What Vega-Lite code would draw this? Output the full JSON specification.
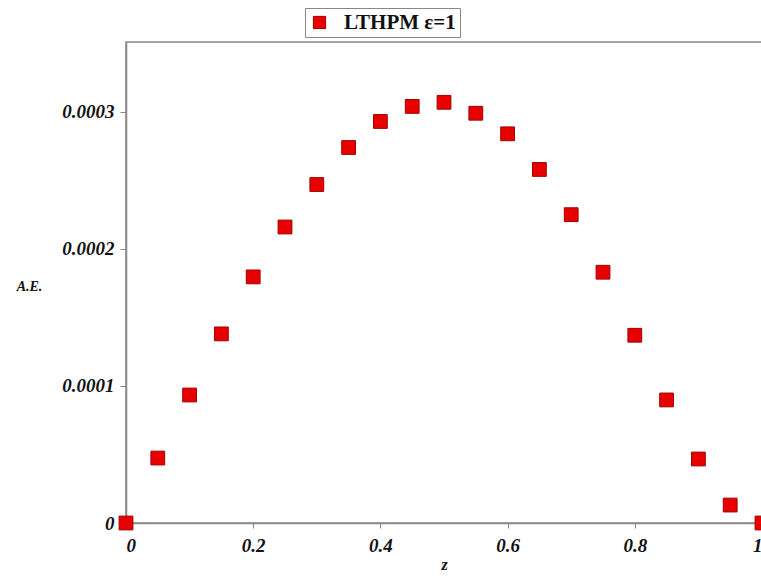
{
  "$schema": "https://vega.github.io/schema/vega-lite/v6.json",
  "autosize": "none",
  "width": 636,
  "height": 481,
  "padding": {"left": 126, "top": 42, "right": 0, "bottom": 56},
  "background": "white",
  "config": {
    "view": {"stroke": "#888888", "strokeWidth": 1.5}
  },
  "data": {
    "values": [
      {"z": 0.0, "ae": 0.0, "series": "LTHPM ε=1"},
      {"z": 0.05, "ae": 0.0000474, "series": "LTHPM ε=1"},
      {"z": 0.1, "ae": 0.0000934, "series": "LTHPM ε=1"},
      {"z": 0.15, "ae": 0.000138, "series": "LTHPM ε=1"},
      {"z": 0.2, "ae": 0.0001796, "series": "LTHPM ε=1"},
      {"z": 0.25, "ae": 0.000216, "series": "LTHPM ε=1"},
      {"z": 0.3, "ae": 0.000247, "series": "LTHPM ε=1"},
      {"z": 0.35, "ae": 0.000274, "series": "LTHPM ε=1"},
      {"z": 0.4, "ae": 0.000293, "series": "LTHPM ε=1"},
      {"z": 0.45, "ae": 0.000304, "series": "LTHPM ε=1"},
      {"z": 0.5, "ae": 0.000307, "series": "LTHPM ε=1"},
      {"z": 0.55, "ae": 0.000299, "series": "LTHPM ε=1"},
      {"z": 0.6, "ae": 0.000284, "series": "LTHPM ε=1"},
      {"z": 0.65, "ae": 0.000258, "series": "LTHPM ε=1"},
      {"z": 0.7, "ae": 0.000225, "series": "LTHPM ε=1"},
      {"z": 0.75, "ae": 0.000183, "series": "LTHPM ε=1"},
      {"z": 0.8, "ae": 0.000137, "series": "LTHPM ε=1"},
      {"z": 0.85, "ae": 0.0000898, "series": "LTHPM ε=1"},
      {"z": 0.9, "ae": 0.0000467, "series": "LTHPM ε=1"},
      {"z": 0.95, "ae": 0.0000131, "series": "LTHPM ε=1"},
      {"z": 1.0, "ae": 0.0, "series": "LTHPM ε=1"}
    ]
  },
  "mark": {"type": "point", "shape": "square", "filled": true, "size": 190, "opacity": 1, "stroke": "#a00000", "strokeWidth": 1, "clip": false},
  "encoding": {
    "x": {
      "field": "z", "type": "quantitative",
      "scale": {"domain": [0, 1], "nice": false, "zero": false},
      "axis": {
        "title": "z", "values": [0, 0.2, 0.4, 0.6, 0.8, 1],
        "labelExpr": "datum.value == 0 ? '0' : datum.value == 1 ? '1' : format(datum.value, '.1f')",
        "grid": false, "domainColor": "#888888", "domainWidth": 1.5,
        "tickColor": "#888888", "tickSize": 5,
        "labelFont": "Times New Roman, Liberation Serif, serif", "labelFontSize": 19, "labelFontWeight": "bold", "labelFontStyle": "italic", "labelColor": "#111111", "labelPadding": 8,
        "titleFont": "Times New Roman, Liberation Serif, serif", "titleFontSize": 16, "titleFontWeight": "bold", "titleFontStyle": "italic", "titleColor": "#111111", "titlePadding": 1
      }
    },
    "y": {
      "field": "ae", "type": "quantitative",
      "scale": {"domain": [0, 0.000351], "nice": false},
      "axis": {
        "title": "A.E.", "values": [0, 0.0001, 0.0002, 0.0003],
        "labelExpr": "datum.value == 0 ? '0' : format(datum.value, '.4f')",
        "grid": false, "domainColor": "#888888", "domainWidth": 1.5,
        "tickColor": "#888888", "tickSize": 6,
        "labelFont": "Times New Roman, Liberation Serif, serif", "labelFontSize": 19, "labelFontWeight": "bold", "labelFontStyle": "italic", "labelColor": "#111111", "labelPadding": 6,
        "titleFont": "Times New Roman, Liberation Serif, serif", "titleFontSize": 14, "titleFontWeight": "bold", "titleFontStyle": "italic", "titleColor": "#111111",
        "titleAngle": 0, "titleX": -97, "titleY": 244, "titleAlign": "center", "titleBaseline": "middle"
      }
    },
    "color": {
      "field": "series", "type": "nominal",
      "scale": {"range": ["#e80000"]},
      "legend": {
        "title": null, "orient": "none", "legendX": 179, "legendY": -34,
        "direction": "vertical",
        "strokeColor": "#888888", "fillColor": "white", "padding": 4,
        "symbolType": "square", "symbolSize": 150, "symbolStrokeColor": "#a00000", "symbolStrokeWidth": 1,
        "labelFont": "Times New Roman, Liberation Serif, serif", "labelFontSize": 21, "labelFontWeight": "bold", "labelColor": "#111111", "labelOffset": 14
      }
    }
  }
}
